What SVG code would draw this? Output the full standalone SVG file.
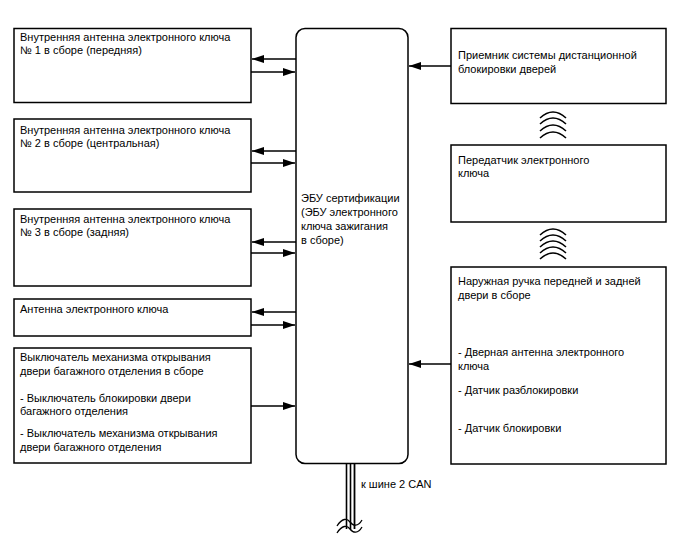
<svg xmlns="http://www.w3.org/2000/svg" width="688" height="560" viewBox="0 0 688 560">
<defs>
<marker id="ah" viewBox="0 0 12 8" refX="12" refY="4" markerWidth="12" markerHeight="8" markerUnits="userSpaceOnUse" orient="auto">
<path d="M0,0 L12,4 L0,8 Z" fill="#000"/>
</marker>
<style>
.box{fill:#fff;stroke:#000;stroke-width:1.5}
text{font-family:"Liberation Sans",Arial,sans-serif;font-size:11px;fill:#000}
.ln{stroke:#000;stroke-width:1.3;fill:none}
.arc{stroke:#000;stroke-width:1.6;fill:none}
</style>
</defs>
<rect width="688" height="560" fill="#fff"/>
<g id="ecu">
<rect class="box" x="296" y="28.5" width="112" height="435" rx="9"/>
<text x="301" y="202">ЭБУ сертификации</text>
<text x="301" y="216">(ЭБУ электронного</text>
<text x="301" y="230">ключа зажигания</text>
<text x="301" y="244">в сборе)</text>
</g>
<g id="ant1">
<rect class="box" x="14" y="28.5" width="237" height="74"/>
<text x="20" y="41">Внутренняя антенна электронного ключа</text>
<text x="20" y="54">№ 1 в сборе (передняя)</text>
</g>
<g id="ant2">
<rect class="box" x="14" y="119" width="237" height="73"/>
<text x="20" y="134">Внутренняя антенна электронного ключа</text>
<text x="20" y="147">№ 2 в сборе (центральная)</text>
</g>
<g id="ant3">
<rect class="box" x="14" y="209" width="237" height="77"/>
<text x="20" y="223">Внутренняя антенна электронного ключа</text>
<text x="20" y="236">№ 3 в сборе (задняя)</text>
</g>
<g id="ant4">
<rect class="box" x="14" y="299" width="237" height="37"/>
<text x="20" y="313">Антенна электронного ключа</text>
</g>
<g id="trunk">
<rect class="box" x="14" y="348" width="237" height="115"/>
<text x="20" y="361">Выключатель механизма открывания</text>
<text x="20" y="375">двери багажного отделения в сборе</text>
<text x="20" y="402">- Выключатель блокировки двери</text>
<text x="20" y="415">багажного отделения</text>
<text x="20" y="437">- Выключатель механизма открывания</text>
<text x="20" y="451">двери багажного отделения</text>
</g>
<g id="receiver">
<rect class="box" x="451" y="28.5" width="215" height="75"/>
<text x="458" y="59">Приемник системы дистанционной</text>
<text x="458" y="73">блокировки дверей</text>
</g>
<g id="transmitter">
<rect class="box" x="451" y="145" width="215" height="77"/>
<text x="458" y="164">Передатчик электронного</text>
<text x="458" y="177">ключа</text>
</g>
<g id="handle">
<rect class="box" x="451" y="267" width="215" height="197"/>
<text x="458" y="285">Наружная ручка передней и задней</text>
<text x="458" y="299">двери в сборе</text>
<text x="458" y="356">- Дверная антенна электронного</text>
<text x="458" y="370">ключа</text>
<text x="458" y="394">- Датчик разблокировки</text>
<text x="458" y="432">- Датчик блокировки</text>
</g>
<g id="connectors">
<line class="ln" x1="296" y1="59" x2="252" y2="59" marker-end="url(#ah)"/>
<line class="ln" x1="251" y1="72" x2="295" y2="72" marker-end="url(#ah)"/>
<line class="ln" x1="296" y1="151" x2="252" y2="151" marker-end="url(#ah)"/>
<line class="ln" x1="251" y1="163" x2="295" y2="163" marker-end="url(#ah)"/>
<line class="ln" x1="296" y1="242" x2="252" y2="242" marker-end="url(#ah)"/>
<line class="ln" x1="251" y1="253" x2="295" y2="253" marker-end="url(#ah)"/>
<line class="ln" x1="296" y1="312" x2="252" y2="312" marker-end="url(#ah)"/>
<line class="ln" x1="251" y1="325" x2="295" y2="325" marker-end="url(#ah)"/>
<line class="ln" x1="251" y1="406" x2="295" y2="406" marker-end="url(#ah)"/>
<line class="ln" x1="451" y1="66" x2="409" y2="66" marker-end="url(#ah)"/>
<line class="ln" x1="451" y1="364" x2="409" y2="364" marker-end="url(#ah)"/>
<g id="wireless1">
<path class="arc" d="M540,118 Q553,106 566,118"/>
<path class="arc" d="M540,124 Q553,112 566,124"/>
<path class="arc" d="M540,131 Q553,119 566,131"/>
<path class="arc" d="M540,138 Q553,126 566,138"/>
</g>
<g id="wireless2">
<path class="arc" d="M540,235 Q553,223 566,235"/>
<path class="arc" d="M540,241 Q553,229 566,241"/>
<path class="arc" d="M540,247 Q553,235 566,247"/>
<path class="arc" d="M540,253 Q553,241 566,253"/>
<path class="arc" d="M540,259 Q553,247 566,259"/>
</g>
<g id="canbus">
<line x1="346.5" y1="464" x2="346.5" y2="529" stroke="#000" stroke-width="1.6"/>
<line x1="350.5" y1="464" x2="350.5" y2="529" stroke="#000" stroke-width="1.6"/>
<line x1="354.5" y1="464" x2="354.5" y2="529" stroke="#000" stroke-width="1.8"/>
<path d="M337,526 C342,518 347,518 350,522 C353,526 358,527 362,520" fill="none" stroke="#000" stroke-width="1.3"/>
<path d="M337,533 C342,525 347,525 350,529 C353,533 358,534 362,527" fill="none" stroke="#000" stroke-width="1.3"/>
<text x="361" y="488">к шине 2 CAN</text>
</g>
</g>
</svg>
